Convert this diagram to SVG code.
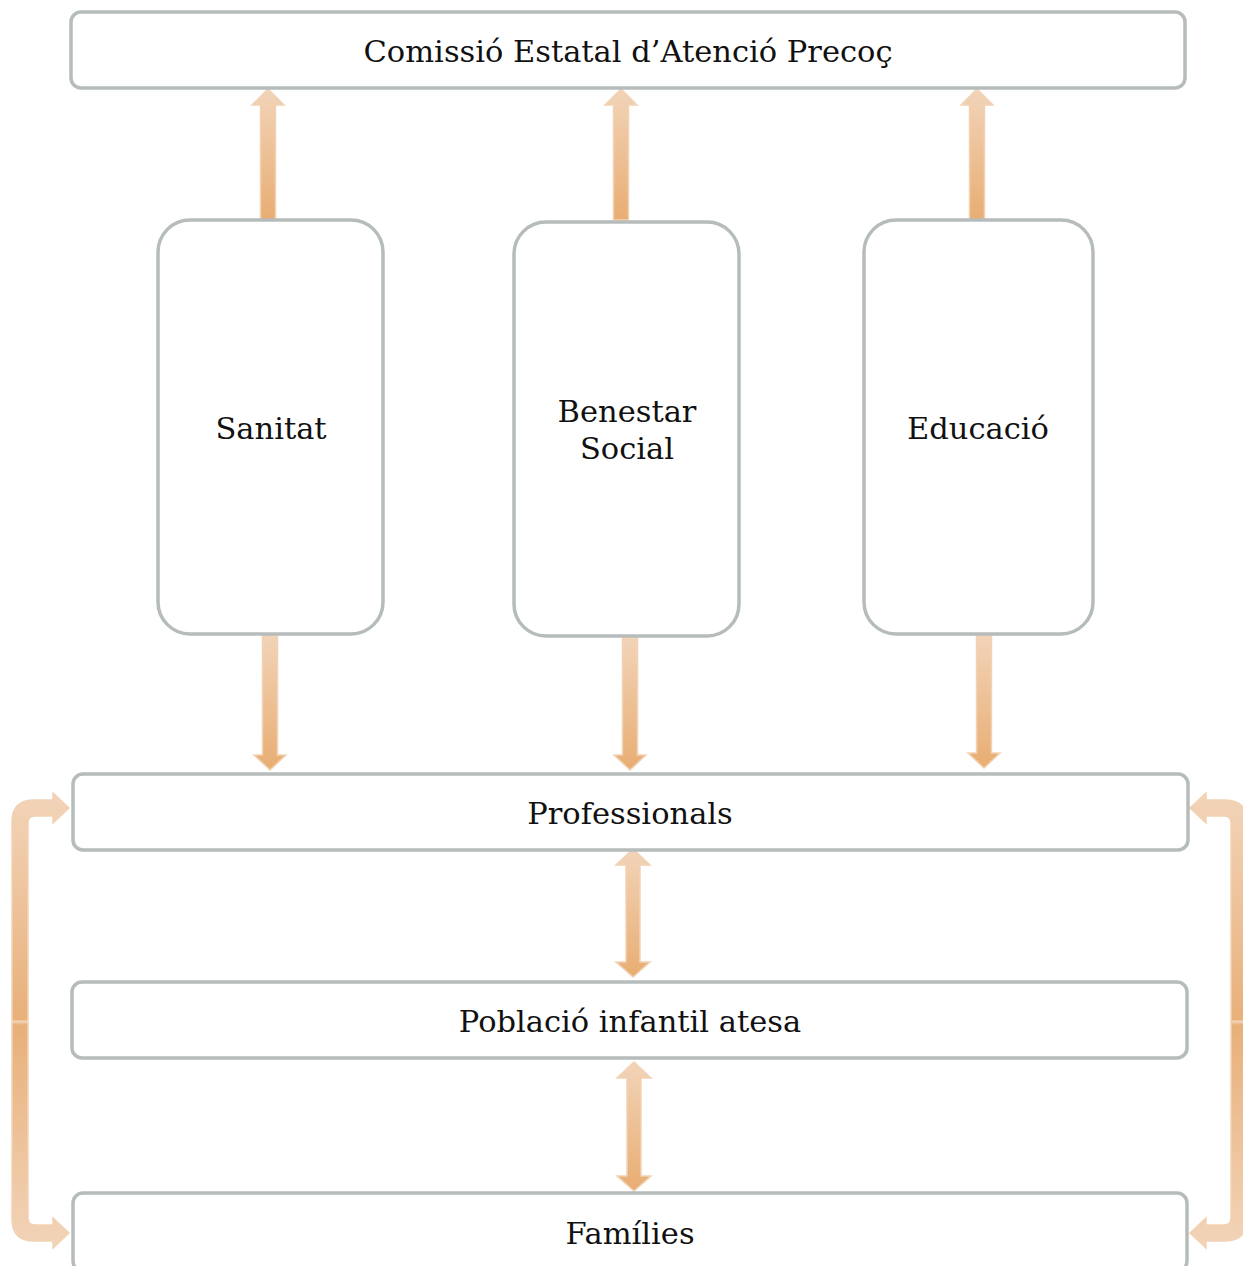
<svg xmlns="http://www.w3.org/2000/svg" width="1243" height="1266" viewBox="0 0 1243 1266">
<defs>
<linearGradient id="ag" x1="0" y1="0" x2="0" y2="1">
<stop offset="0" stop-color="#f2d4b9"/>
<stop offset="1" stop-color="#e8ad72"/>
</linearGradient>
<linearGradient id="bg" gradientUnits="userSpaceOnUse" x1="0" y1="793" x2="0" y2="1248">
<stop offset="0" stop-color="#f2d4b9"/>
<stop offset="0.499" stop-color="#e8b07a"/>
<stop offset="0.501" stop-color="#f3d9c2"/>
<stop offset="0.51" stop-color="#e8b07a"/>
<stop offset="1" stop-color="#f2d4b9"/>
</linearGradient>
<style>
.box{fill:#ffffff;stroke:#b6bcbb;stroke-width:3.5}
.arr{fill:url(#ag);stroke:#f2d2b4;stroke-width:1.5;stroke-linejoin:miter}
.brk{fill:url(#bg);stroke:#f2d2b4;stroke-width:1.5}
.t{font-family:"DejaVu Serif","Liberation Serif",serif;font-size:30.5px;fill:#111;text-anchor:middle}
</style>
</defs>
<g id="connectors">
<polygon class="arr" points="268,89 284,105 275.5,105 275.5,220 260.5,220 260.5,105 252,105"/>
<polygon class="arr" points="621,89 637,105 628.5,105 628.5,220 613.5,220 613.5,105 605,105"/>
<polygon class="arr" points="977,89 993,105 984.5,105 984.5,220 969.5,220 969.5,105 961,105"/>
<polygon class="arr" points="270,770 286,755 277.5,755 277.5,632 262.5,632 262.5,755 254,755"/>
<polygon class="arr" points="630,770 646,755 637.5,755 637.5,636 622.5,636 622.5,755 614,755"/>
<polygon class="arr" points="984,768 1000,753 991.5,753 991.5,634 976.5,634 976.5,753 968,753"/>
<polygon class="arr" points="633,849 650,865 640,865 640,962 650,962 633,977 616,962 626,962 626,865 616,865"/>
<polygon class="arr" points="634,1062 651,1078 641,1078 641,1176 651,1176 634,1191 617,1176 627,1176 627,1078 617,1078"/>
<path class="brk" d="M53,800 L53,793 L69,808 L53,823 L53,816 L35,816 Q28,816 28,823 L28,1218 Q28,1225 35,1225 L53,1225 L53,1218 L69,1233 L53,1248 L53,1241 L34,1241 Q12,1241 12,1219 L12,822 Q12,800 34,800 Z"/>
<path class="brk" d="M1206,800 L1206,793 L1190,808 L1206,823 L1206,816 L1224,816 Q1231,816 1231,823 L1231,1218 Q1231,1225 1224,1225 L1206,1225 L1206,1218 L1190,1233 L1206,1248 L1206,1241 L1225,1241 Q1247,1241 1247,1219 L1247,822 Q1247,800 1225,800 Z"/>
</g>
<g id="node-comissio">
<rect class="box" x="71" y="12" width="1114" height="76" rx="10"/>
<text class="t" x="628" y="62">Comissió Estatal d’Atenció Precoç</text>
</g>
<g id="node-sanitat">
<rect class="box" x="158" y="220" width="225" height="414" rx="32"/>
<text class="t" x="271" y="439">Sanitat</text>
</g>
<g id="node-benestar">
<rect class="box" x="514" y="222" width="225" height="414" rx="32"/>
<text class="t" x="627" y="422">Benestar</text>
<text class="t" x="627" y="459">Social</text>
</g>
<g id="node-educacio">
<rect class="box" x="864" y="220" width="229" height="414" rx="32"/>
<text class="t" x="978" y="439">Educació</text>
</g>
<g id="node-professionals">
<rect class="box" x="73" y="774" width="1115" height="76" rx="10"/>
<text class="t" x="630" y="824">Professionals</text>
</g>
<g id="node-poblacio">
<rect class="box" x="72" y="982" width="1115" height="76" rx="10"/>
<text class="t" x="630" y="1032">Població infantil atesa</text>
</g>
<g id="node-families">
<rect class="box" x="73" y="1193" width="1114" height="78" rx="10"/>
<text class="t" x="630" y="1244">Famílies</text>
</g>
</svg>
